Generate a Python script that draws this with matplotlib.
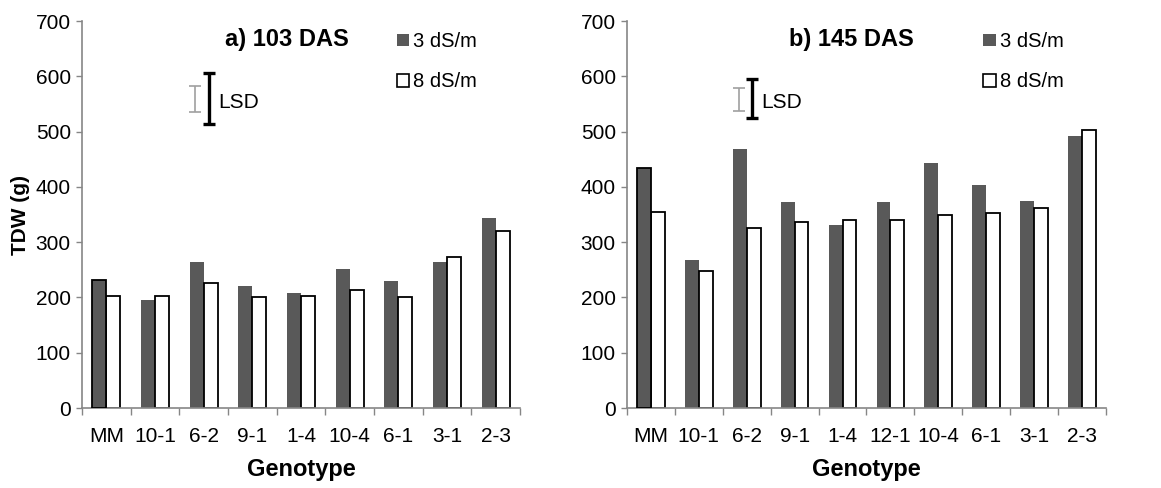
import numpy as np
import matplotlib
matplotlib.use("Agg")
import matplotlib.pyplot as plt
from matplotlib.patches import Patch

plt.rcParams['font.family'] = ['Liberation Sans', 'DejaVu Sans']

# ---- data ----
geno_a = ["MM", "10-1", "6-2", "9-1", "1-4", "10-4", "6-1", "3-1", "2-3"]
low_a = [232, 195, 264, 220, 208, 251, 229, 264, 344]     # 3 dS/m
high_a = [203, 203, 226, 200, 203, 213, 200, 273, 321]    # 8 dS/m

geno_b = ["MM", "10-1", "6-2", "9-1", "1-4", "12-1", "10-4", "6-1", "3-1", "2-3"]
low_b = [434, 267, 469, 372, 331, 372, 444, 403, 375, 492]
high_b = [355, 248, 326, 336, 340, 340, 349, 352, 361, 502]

# LSD bars: (centre, full length) for gray and black bars
lsd_a = [(559, 48), (560, 93)]
lsd_b = [(558, 42), (560, 70)]

titles = ["a) 103 DAS", "b) 145 DAS"]
dark = "#595959"
axis_gray = "#868686"

fig = plt.figure(figsize=(11.61, 4.88), dpi=100)
ax1 = fig.add_axes([0.0706, 0.1639, 0.3773, 0.793])
ax2 = fig.add_axes([0.5400, 0.1639, 0.4126, 0.793])

panels = [(ax1, geno_a, low_a, high_a, lsd_a, titles[0], 0.70),
          (ax2, geno_b, low_b, high_b, lsd_b, titles[1], 0.7275)]

w = 0.29
for ax, geno, lo, hi, lsd, title, legx in panels:
    x = np.arange(len(geno))
    ax.bar(x - w / 2, lo, w, color=dark, edgecolor="none", zorder=2)
    ax.bar(x + w / 2, hi, w, color="white", edgecolor="black", linewidth=1.3, zorder=2)
    # first dark bar has a black outline in the original
    ax.bar(x[0] - w / 2, lo[0], w, color=dark, edgecolor="black", linewidth=1.3, zorder=3)

    ax.set_xlim(-0.5, len(geno) - 0.5)
    ax.set_ylim(0, 700)
    ax.set_yticks(np.arange(0, 701, 100))
    ax.set_xticks(x)
    ax.set_xticklabels(geno)
    ax.set_xticks(np.arange(-0.5, len(geno), 1), minor=True)
    ax.tick_params(axis="x", which="major", length=0, pad=14, labelsize=15)
    ax.tick_params(axis="x", which="minor", length=5, color=axis_gray, width=1)
    ax.tick_params(axis="y", length=4, color=axis_gray, width=1, labelsize=15, pad=4)
    for s in ["top", "right"]:
        ax.spines[s].set_visible(False)
    for s in ["left", "bottom"]:
        ax.spines[s].set_color(axis_gray)
        ax.spines[s].set_linewidth(1.2)
    ax.set_xlabel("Genotype", fontsize=17, fontweight="bold", labelpad=8)

    ax.text(0.468, 0.951, title, transform=ax.transAxes, ha="center", va="center",
            fontsize=17, fontweight="bold")

    # LSD bars
    (gc, gl), (bc, bl) = lsd
    ax.errorbar(1.83, gc, yerr=gl / 2, fmt="none", ecolor="#a0a0a0", elinewidth=1.2,
                capsize=4, capthick=1.2, zorder=4)
    ax.errorbar(2.11, bc, yerr=bl / 2, fmt="none", ecolor="black", elinewidth=2.4,
                capsize=4, capthick=2.4, zorder=4)
    ax.text(2.3, 553, "LSD", fontsize=15, ha="left", va="center")

    handles = [Patch(facecolor=dark, edgecolor="none"),
               Patch(facecolor="white", edgecolor="black", linewidth=1.2)]
    ax.legend(handles, ["3 dS/m", "8 dS/m"], loc="upper left",
              bbox_to_anchor=(legx, 0.992),
              frameon=False, fontsize=14.5, handlelength=0.6, handleheight=0.6,
              handletextpad=0.2, labelspacing=1.05, borderaxespad=0)

ax1.set_ylabel("TDW (g)", fontsize=15, fontweight="bold", labelpad=4)

fig.savefig("out.png", dpi=100)
